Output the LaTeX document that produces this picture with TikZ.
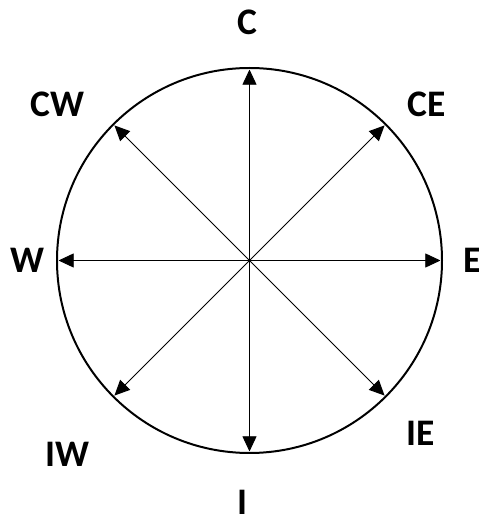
\documentclass[tikz,border=0pt]{standalone}
\usepackage{fontspec}
\setmainfont{Carlito}
\usetikzlibrary{arrows.meta}

\begin{document}
\begin{tikzpicture}[x=0.03cm,y=0.03cm,
  dirlabel/.style={font=\bfseries\fontsize{32}{36}\selectfont,inner sep=0pt},
  dirarrow/.style={line width=0.8pt,-{Triangle[length=13,width=12]}}]
\useasboundingbox (-249.5,-255.5) rectangle (228.5,260.5);
\coordinate (o) at (0,0);
\draw[line width=1.7pt] (o) circle (192.5);
\foreach \a/\n in {0/e,45/ce,90/c,135/cw,180/w,225/iw,270/i,315/ie}
  \coordinate (\n) at (\a:191);
\foreach \n in {e,ce,c,cw,w,iw,i,ie}
  \draw[dirarrow] (o) -- (\n);
\node[dirlabel] (lC) at (-2.5,238.5) {C};
\node[dirlabel] (lE) at (223.5,0) {E};
\node[dirlabel] (lW) at (-222.5,0) {W};
\node[dirlabel] (lI) at (-7.5,-241.5) {I};
\node[dirlabel] (lCW) at (-192,156.5) {CW};
\node[dirlabel] (lCE) at (177,156.5) {CE};
\node[dirlabel] (lIW) at (-182,-193.5) {IW};
\node[dirlabel] (lIE) at (171.5,-173) {IE};
\end{tikzpicture}
\end{document}
